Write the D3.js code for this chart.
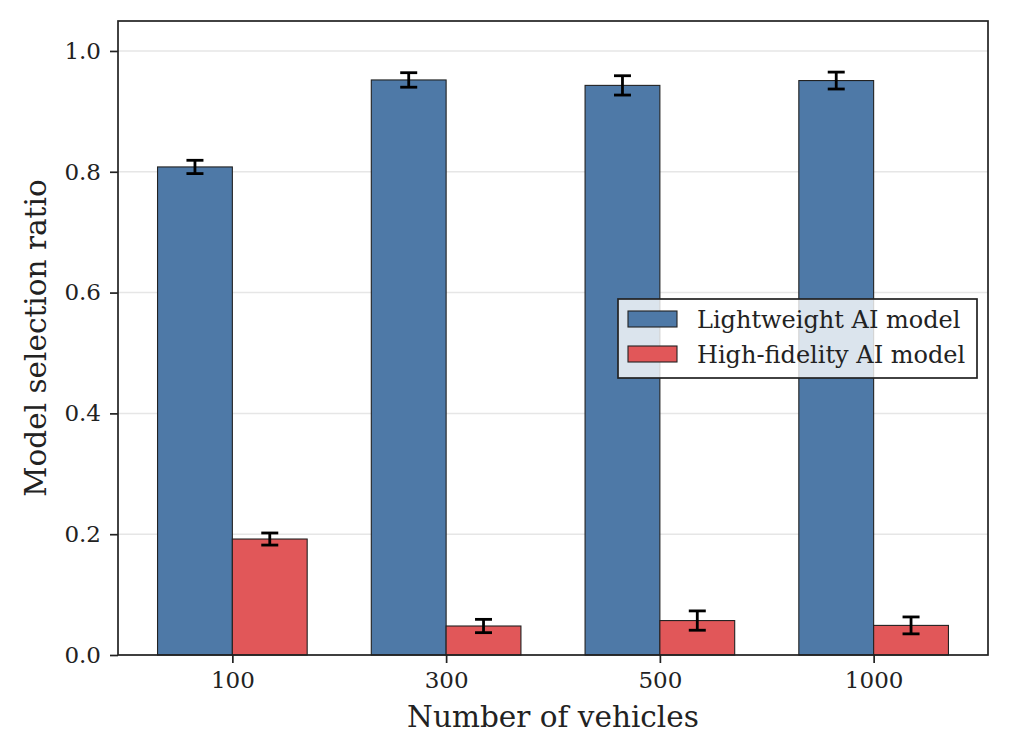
<!DOCTYPE html>
<html>
<head>
<meta charset="utf-8">
<script src="https://cdn.jsdelivr.net/npm/d3@7"></script>
<style>
	body { margin: 0; background: #fff; }
	svg { display: block; font-family: "DejaVu Serif", serif; }
</style>
</head>
<body>
<script>
var categories = ['100', '300', '500', '1000'];
var seriesNames = ['Lightweight AI model', 'High-fidelity AI model'];
var lightweight = [0.808, 0.952, 0.943, 0.951];
var lightweightErr = [0.011, 0.012, 0.016, 0.014];
var highFidelity = [0.192, 0.048, 0.057, 0.049];
var highFidelityErr = [0.010, 0.011, 0.016, 0.014];
var yTicks = [0.0, 0.2, 0.4, 0.6, 0.8, 1.0];

var width = 1010, height = 752;
var margin = { left: 118, right: 22, top: 21, bottom: 97 };
var barWidth = 0.35;
var colors = ['#4e79a7', '#e15759'];

var svg = d3.select('body')
	.append('svg')
	.attr('width', width)
	.attr('height', height);

// matplotlib-like auto margins around the bars
var x = d3.scaleLinear()
	.domain([-0.535, categories.length - 1 + 0.535])
	.range([margin.left, width - margin.right]);

var y = d3.scaleLinear()
	.domain([0, 1.0496])
	.range([height - margin.bottom, margin.top]);

// grid
svg.append('g')
	.selectAll('line')
	.data(yTicks)
	.enter()
	.append('line')
	.attr('x1', margin.left)
	.attr('x2', width - margin.right)
	.attr('y1', function(d) { return y(d); })
	.attr('y2', function(d) { return y(d); })
	.attr('stroke', '#e6e6e6')
	.attr('stroke-width', 1.5);

var series = [
	{ name: seriesNames[0], values: lightweight, err: lightweightErr, offset: -barWidth / 2, color: colors[0] },
	{ name: seriesNames[1], values: highFidelity, err: highFidelityErr, offset: barWidth / 2, color: colors[1] }
];

series.forEach(function(s) {
	var g = svg.append('g');
	g.selectAll('rect')
		.data(s.values)
		.enter()
		.append('rect')
		.attr('x', function(d, i) { return x(i + s.offset - barWidth / 2); })
		.attr('width', function() { return x(barWidth) - x(0); })
		.attr('y', function(d) { return y(d); })
		.attr('height', function(d) { return y(0) - y(d); })
		.attr('fill', s.color)
		.attr('stroke', '#222')
		.attr('stroke-width', 1.1);
});

// error bars
series.forEach(function(s) {
	var g = svg.append('g').attr('stroke', '#000').attr('stroke-width', 2.8);
	s.values.forEach(function(v, i) {
		var cx = x(i + s.offset);
		var lo = y(v - s.err[i]), hi = y(v + s.err[i]);
		g.append('line').attr('x1', cx).attr('x2', cx).attr('y1', lo).attr('y2', hi);
		g.append('line').attr('x1', cx - 8.5).attr('x2', cx + 8.5).attr('y1', lo).attr('y2', lo);
		g.append('line').attr('x1', cx - 8.5).attr('x2', cx + 8.5).attr('y1', hi).attr('y2', hi);
	});
});

// axes
var xAxis = d3.axisBottom(x)
	.tickValues(d3.range(categories.length))
	.tickFormat(function(d) { return categories[d]; })
	.tickSizeOuter(0)
	.tickSize(8)
	.tickPadding(9);

var yAxis = d3.axisLeft(y)
	.tickValues(yTicks)
	.tickFormat(d3.format('.1f'))
	.tickSizeOuter(0)
	.tickSize(8)
	.tickPadding(9);

var gx = svg.append('g')
	.attr('transform', 'translate(0,' + y(0) + ')')
	.call(xAxis);
var gy = svg.append('g')
	.attr('transform', 'translate(' + margin.left + ',0)')
	.call(yAxis);

[gx, gy].forEach(function(g) {
	g.select('.domain').remove();
	g.selectAll('.tick line').attr('stroke', '#222').attr('stroke-width', 1.7);
	g.selectAll('.tick text')
		.attr('fill', '#222')
		.style('font-family', '"DejaVu Serif", serif')
		.style('font-size', '23px');
});

// frame
svg.append('rect')
	.attr('x', margin.left)
	.attr('y', margin.top)
	.attr('width', width - margin.left - margin.right)
	.attr('height', y(0) - margin.top)
	.attr('fill', 'none')
	.attr('stroke', '#222')
	.attr('stroke-width', 1.7);

// axis labels
svg.append('text')
	.attr('x', (margin.left + width - margin.right) / 2)
	.attr('y', 727)
	.attr('text-anchor', 'middle')
	.attr('fill', '#222')
	.style('font-size', '29.5px')
	.text('Number of vehicles');

svg.append('text')
	.attr('transform', 'translate(46,' + (margin.top + y(0)) / 2 + ') rotate(-90)')
	.attr('text-anchor', 'middle')
	.attr('fill', '#222')
	.style('font-size', '29.5px')
	.text('Model selection ratio');

// legend
var legend = svg.append('g').attr('transform', 'translate(618,299)');
legend.append('rect')
	.attr('width', 359)
	.attr('height', 79)
	.attr('fill', '#fff')
	.attr('fill-opacity', 0.8)
	.attr('stroke', '#222')
	.attr('stroke-width', 1.7);

var items = legend.selectAll('.item')
	.data(series)
	.enter()
	.append('g')
	.attr('class', 'item')
	.attr('transform', function(d, i) { return 'translate(10,' + (12 + i * 35) + ')'; });

items.append('rect')
	.attr('width', 49)
	.attr('height', 16)
	.attr('fill', function(d) { return d.color; })
	.attr('stroke', '#222')
	.attr('stroke-width', 1.1);

items.append('text')
	.attr('x', 69)
	.attr('y', 17)
	.attr('fill', '#222')
	.style('font-size', '24px')
	.text(function(d) { return d.name; });
</script>
</body>
</html>
